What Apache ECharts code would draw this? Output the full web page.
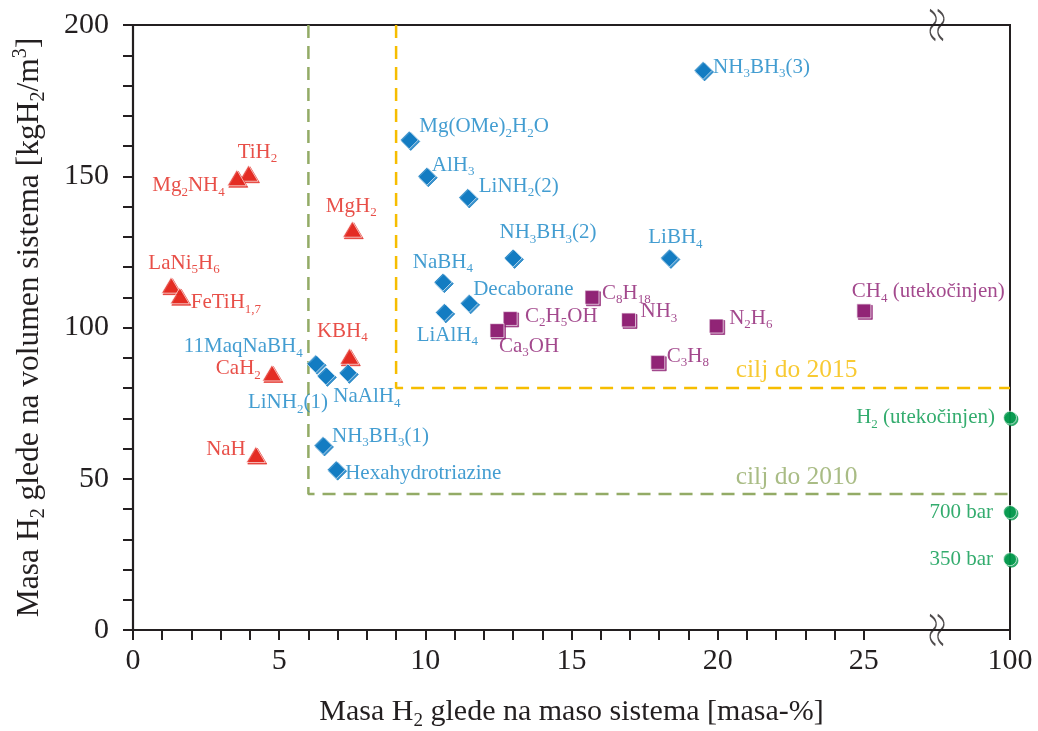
<!DOCTYPE html>
<html><head><meta charset="utf-8">
<script src="https://cdn.jsdelivr.net/npm/echarts@6/dist/echarts.min.js"></script>
<style>html,body{margin:0;padding:0;background:#fff}#c{width:1038px;height:731px}</style>
</head><body><div id="c"></div>
<script>
// ---------- DATA ----------
// Axis ticks (x axis has a break between 25 and 100)
const xTickLabels = ['0', '5', '10', '15', '20', '25', '100'];
const xLabelValues = [0, 5, 10, 15, 20, 25, 100];
const xMinorTickValues = [0,1,2,3,4,5,6,7,8,9,10,11,12,13,14,15,16,17,18,19,20,21,22,23,24,25,100];
const yLabelValues = [0, 50, 100, 150, 200];
const yMinorTickValues = [0,10,20,30,40,50,60,70,80,90,100,110,120,130,140,150,160,170,180,190,200];

// Blue diamonds (complex / chemical hydrides)
const blueNames = ['NH{s|3}BH{s|3}(3)', 'Mg(OMe){s|2}H{s|2}O', 'AlH{s|3}', 'LiNH{s|2}(2)', 'NH{s|3}BH{s|3}(2)',
  'LiBH{s|4}', 'NaBH{s|4}', 'Decaborane', 'LiAlH{s|4}', '11MaqNaBH{s|4}', 'LiNH{s|2}(1)', 'NaAlH{s|4}',
  'NH{s|3}BH{s|3}(1)', 'Hexahydrotriazine'];
const blueX = [19.5, 9.45, 10.05, 11.45, 13.0, 18.35, 10.6, 11.5, 10.65, 6.25, 6.6, 7.35, 6.5, 6.95];
const blueY = [185, 162, 150, 143, 123, 123, 115, 108, 105, 88, 84, 85, 61, 53];

// Red triangles (metal hydrides)
const redNames = ['TiH{s|2}', 'Mg{s|2}NH{s|4}', 'LaNi{s|5}H{s|6}', 'FeTiH{s|1,7}', 'MgH{s|2}', 'KBH{s|4}', 'CaH{s|2}', 'NaH'];
const redX = [3.95, 3.55, 1.3, 1.6, 7.5, 7.4, 4.75, 4.2];
const redY = [151, 149.5, 114, 110.5, 132.5, 90.5, 85, 58];

// Purple squares (liquid fuels)
const purpleNames = ['C{s|8}H{s|18}', 'C{s|2}H{s|5}OH', 'Ca{s|3}OH', 'NH{s|3}', 'C{s|3}H{s|8}', 'N{s|2}H{s|6}', 'CH{s|4} (utekočinjen)'];
const purpleX = [15.7, 12.9, 12.45, 16.95, 17.95, 19.95, 25];
const purpleY = [110, 103, 99, 102.5, 88.5, 100.5, 105.5];

// Green circles (pure hydrogen, plotted at 100 %)
const greenNames = ['H{s|2} (utekočinjen)', '700 bar', '350 bar'];
const greenX = [100, 100, 100];
const greenY = [70.2, 39, 23.4];

// DOE targets
const targetNames = ['cilj do 2010', 'cilj do 2015'];
const targetWt = [6, 9];
const targetVol = [45, 80];
const targetLabelAt = [[22.7, 50.6], [22.7, 86]];

// ---------- LAYOUT / STYLE (not data) ----------
const bluePlace = [['left',10,-3],['left',10,-13],['left',5,-11],['left',11,-11],['center',35,-25],['center',6,-20],
  ['center',0,-20],['left',4,-14],['center',3,23],['right',-13,-17],['center',-38,27],['center',19,24],['left',9,-9],['left',9,4]];
const redPlace = [['center',9,-21],['right',-12,8],['center',13,-22],['left',11,7],['center',-1,-23],['center',-7,-25],['right',-11,-4],['right',-10,-5]];
const purplePlace = [['left',10,-4],['left',15,-2],['left',2,16],['left',12,-8],['left',9,-6],['left',13,-8],['left',-12,-19]];
const greenPlace = [['right',-15,0],['right',-17,0],['right',-17,0]];

// map a value on the broken x axis: 100 sits at the axis end
const BREAK_POS = 30;
function brokenX(v) { return v >= 100 ? BREAK_POS : v; }

const SERIF = "'Liberation Serif', 'DejaVu Serif', serif";
const INK = '#231f20';
const C_BLUE = '#0a77bf', C_RED = '#e2231a', C_PURPLE = '#8c1c70', C_GREEN = '#00974a';
const T_BLUE = '#1485c6';
const C_T2010 = '#93ab66', C_T2015 = '#f6bd00';

function rich(size, color) {
  return {
    s: { fontFamily: SERIF, fontSize: Math.round(size * 0.62), color: color, padding: [Math.round(size * 0.6), 0, 0, 0] },
    p: { fontFamily: SERIF, fontSize: Math.round(size * 0.62), color: color, padding: [0, 0, Math.round(size * 0.55), 0] }
  };
}

function pointSeries(names, xs, ys, place, symbol, size, color, textColor) {
  const tc = textColor || color;
  return {
    type: 'scatter',
    symbol: symbol,
    symbolSize: size,
    clip: false,
    z: 5,
    itemStyle: { color: color, borderColor: '#ffffff', borderWidth: 0.8, shadowColor: color, shadowBlur: 0, shadowOffsetX: 1.5, shadowOffsetY: 1.5 },
    label: {
      show: true, position: 'inside', fontFamily: SERIF, fontSize: 21, color: tc,
      formatter: p => names[p.dataIndex], rich: rich(21, tc)
    },
    data: xs.map((x, i) => ({
      value: [brokenX(x), ys[i]],
      label: { align: place[i][0], offset: [place[i][1], place[i][2]] }
    }))
  };
}

function targetSeries(k, color) {
  return {
    type: 'line', symbol: 'none', silent: true, z: 3, clip: false,
    lineStyle: { color: color, width: 2.5, type: [13, 8] },
    data: [[targetWt[k], 200], [targetWt[k], targetVol[k]], [brokenX(100), targetVol[k]]]
  };
}

function targetLabel(k, color) {
  return {
    type: 'scatter', symbolSize: 0, silent: true, z: 4,
    label: { show: true, position: 'inside', fontFamily: SERIF, fontSize: 25.5, color: color, formatter: targetNames[k] },
    data: [targetLabelAt[k]]
  };
}

const breakPath = 'path://M2,0 C9,5 9,11 5,15 C1,19 1,25 7,30 M9,0 C16,5 16,11 12,15 C8,19 8,25 14,30';

const chart = echarts.init(document.getElementById('c'), null, { renderer: 'canvas' });
chart.setOption({
  animation: false,
  backgroundColor: '#ffffff',
  grid: { left: 133, right: 28, top: 25, bottom: 101, containLabel: false, outerBoundsMode: 'none',
    show: true, borderColor: INK, borderWidth: 2, backgroundColor: 'transparent' },
  xAxis: {
    type: 'value', min: 0, max: BREAK_POS, interval: 5,
    name: 'Masa H{s|2} glede na maso sistema [masa-%]',
    nameLocation: 'middle', nameGap: 64,
    nameTextStyle: { fontFamily: SERIF, fontSize: 30, color: INK, rich: rich(30, INK) },
    axisLine: { show: true, onZero: false, lineStyle: { color: INK, width: 2.2 } },
    axisTick: { show: true, inside: false, length: 10, lineStyle: { color: INK, width: 2 }, customValues: xMinorTickValues.map(brokenX) },
    axisLabel: { fontFamily: SERIF, fontSize: 30, color: INK, margin: 16,
      customValues: xLabelValues.map(brokenX),
      formatter: v => xTickLabels[xLabelValues.map(brokenX).indexOf(v)] },
    splitLine: { show: false }
  },
  yAxis: {
    type: 'value', min: 0, max: 200, interval: 50,
    name: 'Masa H{s|2} glede na volumen sistema [kgH{s|2}/m{p|3}]',
    nameLocation: 'middle', nameGap: 84,
    nameTextStyle: { fontFamily: SERIF, fontSize: 31.5, color: INK, rich: rich(31.5, INK) },
    axisLine: { show: true, onZero: false, lineStyle: { color: INK, width: 2.2 } },
    axisTick: { show: true, inside: false, length: 10, lineStyle: { color: INK, width: 2 }, customValues: yMinorTickValues },
    axisLabel: { fontFamily: SERIF, fontSize: 30, color: INK, margin: 24, customValues: yLabelValues },
    splitLine: { show: false }
  },
  series: [
    targetSeries(0, C_T2010),
    targetSeries(1, C_T2015),
    targetLabel(0, C_T2010),
    targetLabel(1, C_T2015),
    pointSeries(redNames, redX, redY, redPlace, 'triangle', [19, 16], C_RED),
    pointSeries(blueNames, blueX, blueY, bluePlace, 'diamond', [18, 18], C_BLUE, T_BLUE),
    pointSeries(purpleNames, purpleX, purpleY, purplePlace, 'rect', [14, 14], C_PURPLE),
    pointSeries(greenNames, greenX, greenY, greenPlace, 'circle', 13, C_GREEN),
    {
      type: 'scatter', symbol: breakPath, symbolSize: [14, 30], clip: false, silent: true, z: 6,
      itemStyle: { color: 'rgba(0,0,0,0)', borderColor: INK, borderWidth: 1.8 },
      data: [[27.5, 0], [27.5, 200]]
    }
  ]
});
</script>
</body></html>
